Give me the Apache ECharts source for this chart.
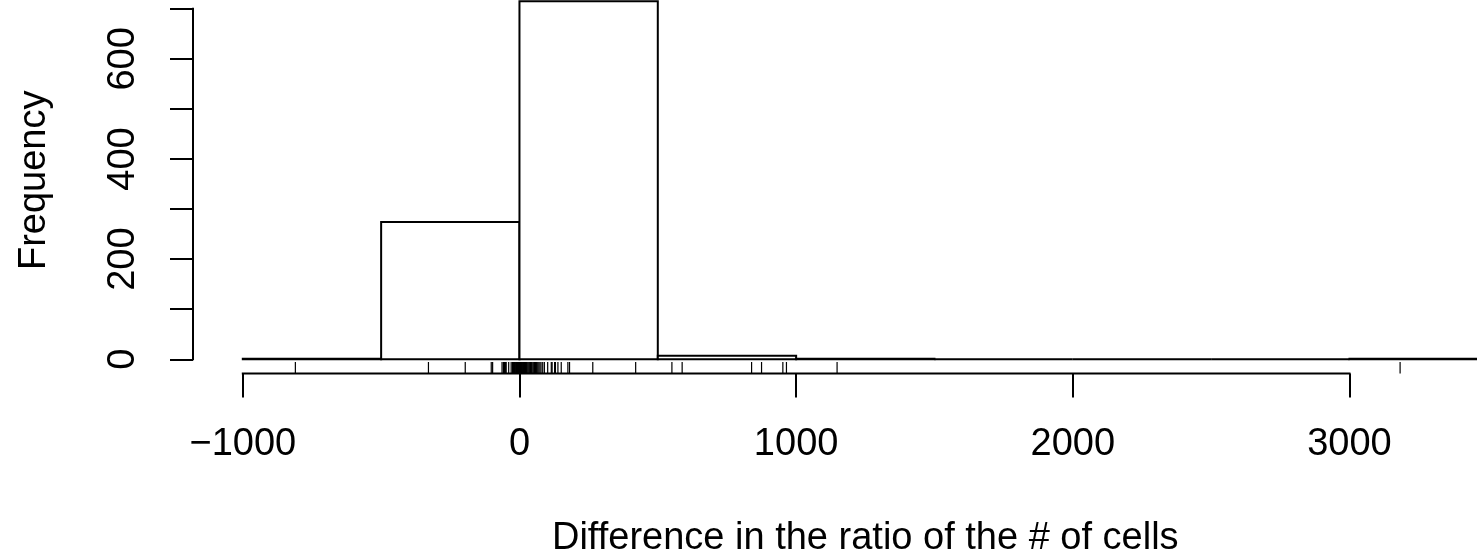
<!DOCTYPE html>
<html>
<head>
<meta charset="utf-8">
<title>Histogram</title>
<script src="https://cdn.jsdelivr.net/npm/echarts@6/dist/echarts.min.js"></script>
<style>
  html, body { margin: 0; padding: 0; background: #fff; }
  #chart { width: 1477px; height: 560px; }
</style>
</head>
<body>
<div id="chart"></div>
<script>
// histogram bins (width 500) and their counts
const binEdges = [-1000, -500, 0, 500, 1000, 1500, 2000, 2500, 3000, 3500]
const binCounts = [1, 274, 715, 7, 1, 0, 0, 0, 1]

// rug marks under the bars
const rugValues = [
  -810, -329, -196, -102, -97, -63, -58, -54, -51, -48, -39, -30,
  -25, -22, -20, -18, -15, -13, -11, -9, -7, -5, -4, -3, -2, -1,
  0, 1, 2, 3, 4, 5, 6, 8, 10, 12, 14, 16, 18, 20, 22, 25, 28, 31,
  34, 37, 40, 43, 46, 50, 54, 58, 62, 66, 70, 74, 78,
  84, 90, 102, 115, 118, 127, 130, 139, 151, 175, 181, 265, 420,
  551, 588, 839, 875, 952, 965, 1148, 3183
]

const xTicks = [-1000, 0, 1000, 2000, 3000]
const yTicks = [0, 100, 200, 300, 400, 500, 600, 700]
const yLabels = [0, 200, 400, 600]

const xTitle = 'Difference in the ratio of the # of cells'
const yTitle = 'Frequency'

// R style 4% padding on both axes
const xSpan = binEdges[binEdges.length - 1] - binEdges[0]
const xMin = binEdges[0] - 0.04 * xSpan
const xMax = binEdges[binEdges.length - 1] + 0.04 * xSpan
const yTop = Math.max(...binCounts)
const yMin = -0.04 * yTop
const yMax = yTop * 1.04

const font = 'Liberation Sans'
const fontSize = 38

const barData = binCounts.map((c, i) => [binEdges[i], binEdges[i + 1], c])

const chart = echarts.init(document.getElementById('chart'))

chart.setOption({
  animation: false,
  backgroundColor: '#fff',
  grid: {
    left: 193,
    top: -13,
    width: 1344.6,
    height: 386.6,
    containLabel: false,
    outerBoundsMode: 'none'
  },
  xAxis: {
    type: 'value',
    min: xMin,
    max: xMax,
    splitLine: { show: false },
    axisLine: { show: false, onZero: false },
    axisTick: {
      show: true,
      customValues: xTicks,
      length: 24,
      lineStyle: { color: '#000', width: 2 }
    },
    axisLabel: {
      customValues: xTicks,
      margin: 52,
      color: '#000',
      fontFamily: font,
      fontSize: fontSize,
      formatter: v => (v < 0 ? '\u2212' + Math.abs(v) : String(v))
    },
    name: xTitle,
    nameLocation: 'middle',
    nameGap: 146,
    nameTextStyle: { color: '#000', fontFamily: font, fontSize: fontSize }
  },
  yAxis: {
    type: 'value',
    min: yMin,
    max: yMax,
    splitLine: { show: false },
    axisLine: { show: false, onZero: false },
    axisTick: {
      show: true,
      customValues: yTicks,
      length: 23,
      lineStyle: { color: '#000', width: 2 }
    },
    axisLabel: {
      customValues: yLabels,
      rotate: 90,
      margin: 50,
      color: '#000',
      fontFamily: font,
      fontSize: fontSize
    },
    name: yTitle,
    nameLocation: 'middle',
    nameRotate: 90,
    nameGap: 139,
    nameTextStyle: { color: '#000', fontFamily: font, fontSize: fontSize }
  },
  series: [
    {
      // bars
      type: 'custom',
      data: barData,
      renderItem (params, api) {
        const topLeft = api.coord([api.value(0), api.value(2)])
        const botRight = api.coord([api.value(1), 0])
        return {
          type: 'rect',
          shape: {
            x: topLeft[0],
            y: topLeft[1],
            width: botRight[0] - topLeft[0],
            height: botRight[1] - topLeft[1]
          },
          style: { fill: '#fff', stroke: '#000', lineWidth: 2 }
        }
      }
    },
    {
      // rug
      type: 'custom',
      data: rugValues.map(v => [v]),
      renderItem (params, api) {
        const p = api.coord([api.value(0), yMin])
        const len = params.coordSys.height * 0.03
        return {
          type: 'line',
          shape: { x1: p[0], y1: p[1], x2: p[0], y2: p[1] - len },
          style: { stroke: '#000', lineWidth: 1.2 }
        }
      }
    },
    {
      // axis lines only span the tick range, like base R
      type: 'custom',
      data: [0],
      renderItem (params, api) {
        const xa = api.coord([xTicks[0], yMin])
        const xb = api.coord([xTicks[xTicks.length - 1], yMin])
        const ya = api.coord([xMin, yTicks[0]])
        const yb = api.coord([xMin, yTicks[yTicks.length - 1]])
        return {
          type: 'group',
          children: [
            {
              type: 'line',
              shape: { x1: xa[0] - 1, y1: xa[1], x2: xb[0] + 1, y2: xb[1] },
              style: { stroke: '#000', lineWidth: 2 }
            },
            {
              type: 'line',
              shape: { x1: ya[0], y1: ya[1] + 1, x2: yb[0], y2: yb[1] - 1 },
              style: { stroke: '#000', lineWidth: 2 }
            }
          ]
        }
      }
    }
  ]
})
</script>
</body>
</html>
